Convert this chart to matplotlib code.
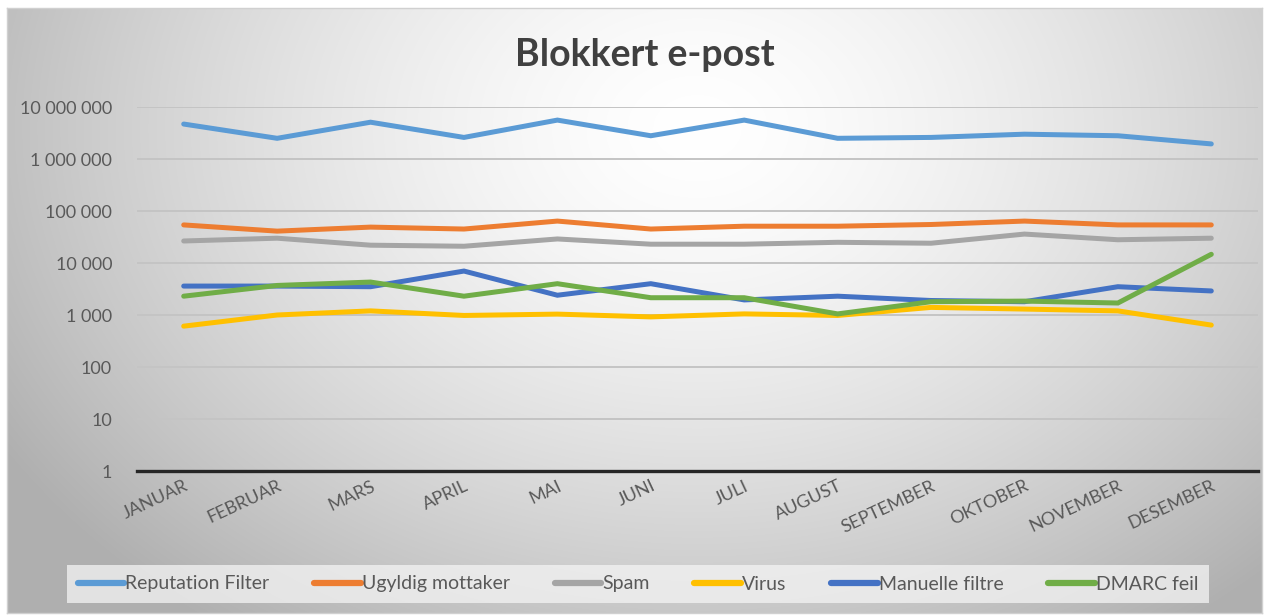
import numpy as np
import matplotlib
matplotlib.use("Agg")
from matplotlib import pyplot as plt
from matplotlib.ticker import FixedLocator, FuncFormatter

plt.rcParams['font.family'] = ['Lato', 'DejaVu Sans']

months = ["JANUAR", "FEBRUAR", "MARS", "APRIL", "MAI", "JUNI", "JULI",
          "AUGUST", "SEPTEMBER", "OKTOBER", "NOVEMBER", "DESEMBER"]

reputation = [4700000, 2500000, 5100000, 2600000, 5600000, 2800000, 5600000,
              2500000, 2600000, 3000000, 2800000, 1950000]
ugyldig = [54000, 41000, 49000, 45000, 64000, 45000, 51000,
           51000, 55000, 64000, 54000, 54000]
spam = [26500, 30000, 22000, 21000, 29000, 23000, 23000,
        25000, 24000, 36000, 28000, 30000]
virus = [610, 1000, 1200, 980, 1040, 920, 1050,
         980, 1400, 1300, 1200, 640]
manuelle = [3600, 3600, 3500, 7000, 2400, 4000, 1950,
            2300, 1900, 1800, 3500, 2900]
dmarc = [2300, 3700, 4300, 2300, 4000, 2150, 2150,
         1050, 1800, 1850, 1700, 14700]

series = [("Reputation Filter", reputation, "#5B9BD5"),
          ("Ugyldig mottaker", ugyldig, "#ED7D31"),
          ("Spam", spam, "#A5A5A5"),
          ("Virus", virus, "#FFC000"),
          ("Manuelle filtre", manuelle, "#4472C4"),
          ("DMARC feil", dmarc, "#70AD47")]

W, H = 1269, 615
fig = plt.figure(figsize=(W / 100, H / 100), dpi=100)
fig.patch.set_facecolor("white")

# gradient background of the chart area
bg = fig.add_axes([7 / W, 1 - 613 / H, (1262 - 7) / W, (613 - 8) / H])
yy, xx = np.mgrid[0:605, 0:1255]
r = np.sqrt(((xx - 690) / 740.0) ** 2 + ((yy - 120) / 560.0) ** 2)
shade = 1.0 - 0.27 * np.clip(r, 0, 1.1) ** 1.5
img = np.dstack([shade, shade, shade])
bg.imshow(img, aspect="auto", interpolation="bilinear", vmin=0, vmax=1)
bg.set_xticks([])
bg.set_yticks([])
for s in bg.spines.values():
    s.set_color("#d0d0d0")
    s.set_linewidth(1)

ax = fig.add_axes([137 / W, 1 - 471 / H, (1258 - 137) / W, (471 - 107) / H])
ax.patch.set_alpha(0)
x = np.arange(len(months))
for name, vals, col in series:
    ax.plot(x, vals, color=col, lw=3.6, label=name, solid_capstyle="round",
            solid_joinstyle="miter")

ax.set_yscale("log")
ax.set_ylim(1, 1e7)
ax.set_xlim(-0.5, len(months) - 0.5)
ax.yaxis.set_major_locator(FixedLocator([10 ** k for k in range(8)]))
ax.yaxis.set_minor_locator(FixedLocator([]))
ax.yaxis.set_major_formatter(FuncFormatter(lambda v, p: f"{int(round(v)):,}".replace(",", " ")))
ax.grid(axis="y", color="#c4c4c4", lw=1.4)
ax.set_axisbelow(True)
for side in ["top", "right", "left"]:
    ax.spines[side].set_visible(False)
ax.spines["bottom"].set_color("#262626")
ax.spines["bottom"].set_linewidth(2.4)
ax.tick_params(axis="y", length=0, pad=18, labelsize=13, labelcolor="#595959")
ax.tick_params(axis="x", length=0, pad=5, labelsize=13, labelcolor="#595959")
ax.set_xticks(x)
ax.set_xticklabels(months, rotation=25, ha="right", rotation_mode="anchor")

fig.text(645 / W, 1 - 55 / H, "Blokkert e-post", ha="center", va="center",
         fontsize=27, fontweight="bold", color="#404040")

leg = fig.legend(loc="center", bbox_to_anchor=(638 / W, 1 - 584 / H), ncol=6,
                 frameon=True, fontsize=14, handlelength=2.4, handletextpad=0.05,
                 columnspacing=2.3, borderpad=0.55, labelcolor="#595959")
leg.get_frame().set_facecolor("#f4f4f4")
leg.get_frame().set_alpha(0.75)
leg.get_frame().set_edgecolor("none")
leg.get_frame().set_boxstyle("square", pad=0)
for line in leg.get_lines():
    line.set_linewidth(4.5)
    line.set_solid_capstyle("round")

fig.savefig("out.png", dpi=100)
